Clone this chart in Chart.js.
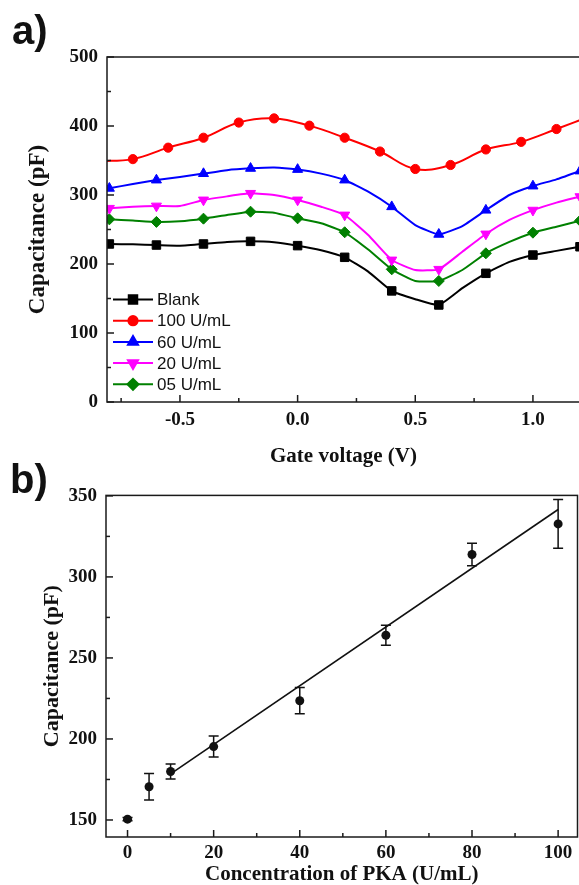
<!DOCTYPE html>
<html>
<head>
<meta charset="utf-8">
<script src="https://cdn.jsdelivr.net/npm/chart.js@4.4.0/dist/chart.umd.min.js"></script>
<style>
  html, body { margin: 0; padding: 0; background: #fff; }
  body { width: 579px; height: 885px; overflow: hidden; position: relative; }
  .panel { position: absolute; left: 0; }
  .tag { position: absolute; z-index: 2; color: #111; line-height: 1;
         font: bold 40px 'Liberation Sans', Arial, sans-serif; }
</style>
</head>
<body>
<div class="tag" style="left:12px; top:8px">a)</div>
<div class="tag" style="left:10px; top:457px">b)</div>
<div class="panel" style="top:0"><canvas id="gateChart" width="600" height="475"></canvas></div>
<div class="panel" style="top:475px"><canvas id="pkaChart" width="600" height="410"></canvas></div>
<script>
// panel a) capacitance vs gate voltage
const gateVoltage = [-0.8, -0.7, -0.6, -0.5, -0.4, -0.3, -0.2, -0.1, 0.0, 0.1, 0.2,
  0.3, 0.4, 0.5, 0.6, 0.7, 0.8, 0.9, 1.0, 1.1, 1.2];
const blankCap = [229, 228.5, 227.5, 226.6, 229, 232, 232.8, 231.4, 226.6, 220, 209.7,
  189, 161, 149, 140.6, 165, 186.5, 203, 213, 219, 225];
const pka60Cap = [309.7, 316, 321.7, 326, 331, 336, 338.6, 340, 337, 331, 321.7,
  304.8, 283, 256.5, 243, 255, 278, 300, 313, 322.7, 334.8];
const pka20Cap = [280.7, 283, 284, 284, 292.8, 298, 302.4, 300, 292.8, 283, 271,
  242, 205.8, 191.3, 192.3, 217.8, 243.5, 263.8, 278, 289, 297.6];
const pka05Cap = [264.7, 263, 261, 262, 265.7, 271, 275.8, 274.4, 266.2, 259, 246,
  221, 192.3, 175.4, 175.4, 191.3, 215.5, 232, 245.4, 254, 262.8];
// the 100 U/mL curve is sampled on its own grid
const pka100Voltage = [-0.85, -0.7, -0.55, -0.4, -0.25, -0.1, 0.05, 0.2, 0.35, 0.5,
  0.65, 0.8, 0.95, 1.1, 1.25];
const pka100Cap = [349, 352, 368.6, 383, 405, 411, 400.5, 383, 363, 337.7,
  343.5, 366, 377, 395.6, 415];
const gateLabels = ['Blank', '100 U/mL', '60 U/mL', '20 U/mL', '05 U/mL'];
const gateXTicks = [-0.5, 0.0, 0.5, 1.0];
const gateYTicks = [0, 100, 200, 300, 400, 500];

// panel b) calibration
const pkaConc = [0, 5, 10, 20, 40, 60, 80, 100];
const pkaCap = [150.5, 170.5, 179.9, 195.3, 223.6, 264, 313.8, 332.7];
const pkaErr = [1, 8.2, 4.6, 6.5, 8.1, 6.1, 6.9, 15];
const fitConc = [10, 100];
const fitCap = [178.5, 341.6];
const pkaXTicks = [0, 20, 40, 60, 80, 100];
const pkaYTicks = [150, 200, 250, 300, 350];

const serif = "'Liberation Serif', 'Times New Roman', serif";
const sans = "'Liberation Sans', Arial, sans-serif";
const ink = '#111';

const toPoints = (xs, ys) => xs.map((x, i) => ({ x, y: ys[i] }));

const minorOf = (majors, min, max) => {
  const step = majors[1] - majors[0];
  const out = [];
  majors.forEach(v => {
    [v - step / 2, v + step / 2].forEach(m => {
      if (m > min && m < max && !out.some(o => Math.abs(o - m) < 1e-9)) out.push(m);
    });
  });
  return out;
};

// box round the plot area with inward ticks
const framePlugin = {
  id: 'frame',
  afterDatasetsDraw(chart, args, opts) {
    const { ctx, chartArea: a, scales } = chart;
    ctx.save();
    ctx.strokeStyle = '#1a1a1a';
    ctx.lineWidth = 1.5;
    ctx.strokeRect(a.left, a.top, a.right - a.left, a.bottom - a.top);
    const xs = scales.x, ys = scales.y;
    const drawX = (vals, len) => vals.forEach(v => {
      const px = xs.getPixelForValue(v);
      ctx.beginPath(); ctx.moveTo(px, a.bottom); ctx.lineTo(px, a.bottom - len); ctx.stroke();
    });
    const drawY = (vals, len) => vals.forEach(v => {
      const py = ys.getPixelForValue(v);
      ctx.beginPath(); ctx.moveTo(a.left, py); ctx.lineTo(a.left + len, py); ctx.stroke();
    });
    drawX(opts.xTicks, 7);
    drawX(minorOf(opts.xTicks, xs.min, xs.max), 4);
    drawY(opts.yTicks, 7);
    drawY(minorOf(opts.yTicks, ys.min, ys.max), 4);
    ctx.restore();
  }
};

const gateStyles = [
  { color: '#000000', pointStyle: 'rect', radius: 6, rotation: 0 },
  { color: '#ff0000', pointStyle: 'circle', radius: 4.6, rotation: 0 },
  { color: '#0000ff', pointStyle: 'triangle', radius: 5.8, rotation: 0 },
  { color: '#ff00ff', pointStyle: 'triangle', radius: 5.8, rotation: 180 },
  { color: '#008000', pointStyle: 'rectRot', radius: 5.5, rotation: 0 }
];

const legendPlugin = {
  id: 'boxLegend',
  afterDraw(chart) {
    const { ctx } = chart;
    ctx.save();
    gateLabels.forEach((label, i) => {
      const s = gateStyles[i];
      const y = 299.5 + i * 21.2;
      ctx.strokeStyle = s.color;
      ctx.fillStyle = s.color;
      ctx.lineWidth = 2;
      ctx.beginPath(); ctx.moveTo(113, y); ctx.lineTo(153, y); ctx.stroke();
      Chart.helpers.drawPoint(ctx, {
        pointStyle: s.pointStyle, radius: s.radius, rotation: s.rotation, borderWidth: 1
      }, 133, y);
      ctx.fillStyle = ink;
      ctx.font = '17px ' + sans;
      ctx.textBaseline = 'middle';
      ctx.textAlign = 'left';
      ctx.fillText(label, 157, y + 1);
    });
    ctx.restore();
  }
};

const gateSeries = [
  toPoints(gateVoltage, blankCap),
  toPoints(pka100Voltage, pka100Cap),
  toPoints(gateVoltage, pka60Cap),
  toPoints(gateVoltage, pka20Cap),
  toPoints(gateVoltage, pka05Cap)
];

const gateDatasets = gateSeries.map((data, i) => {
  const s = gateStyles[i];
  const dense = i !== 1;
  return {
    label: gateLabels[i],
    data,
    borderColor: s.color,
    backgroundColor: s.color,
    borderWidth: 2,
    tension: dense ? 0.15 : 0.4,
    pointStyle: s.pointStyle,
    pointRotation: s.rotation,
    pointRadius: ctx => (dense && ctx.dataIndex % 2 !== 0) ? 0 : s.radius,
    pointBorderWidth: 1,
    clip: 0
  };
});

const tickFont = { family: serif, size: 19, weight: 'bold' };

new Chart(document.getElementById('gateChart'), {
  type: 'line',
  data: { datasets: gateDatasets },
  options: {
    responsive: false,
    animation: false,
    events: [],
    layout: { padding: { top: 57, right: 20, left: 0, bottom: 0 } },
    plugins: {
      legend: { display: false },
      tooltip: { enabled: false },
      frame: { xTicks: gateXTicks, yTicks: gateYTicks }
    },
    scales: {
      x: {
        type: 'linear', min: -0.81, max: 1.2,
        grid: { display: false, drawTicks: false },
        border: { display: false },
        afterBuildTicks: s => { s.ticks = gateXTicks.map(v => ({ value: v })); },
        afterFit: s => { s.height = 73; },
        ticks: { font: tickFont, color: ink, padding: 7, callback: v => v.toFixed(1) },
        title: { display: true, text: 'Gate voltage (V)', color: ink,
          font: { family: serif, size: 21, weight: 'bold' }, padding: { bottom: 6 } }
      },
      y: {
        type: 'linear', min: 0, max: 500,
        grid: { display: false, drawTicks: false },
        border: { display: false },
        afterBuildTicks: s => { s.ticks = gateYTicks.map(v => ({ value: v })); },
        afterFit: s => { s.width = 107; },
        ticks: { font: tickFont, color: ink, padding: 9 },
        title: { display: true, text: 'Capacitance (pF)', color: ink,
          font: { family: serif, size: 23, weight: 'bold' }, padding: { top: 24 } }
      }
    }
  },
  plugins: [framePlugin, legendPlugin]
});

const errorBarPlugin = {
  id: 'errorBars',
  afterDatasetsDraw(chart) {
    const { ctx, scales: { x, y } } = chart;
    ctx.save();
    ctx.strokeStyle = '#111';
    ctx.lineWidth = 1.5;
    pkaConc.forEach((c, i) => {
      const px = x.getPixelForValue(c);
      const top = y.getPixelForValue(pkaCap[i] + pkaErr[i]);
      const bot = y.getPixelForValue(pkaCap[i] - pkaErr[i]);
      ctx.beginPath();
      ctx.moveTo(px, top); ctx.lineTo(px, bot);
      ctx.moveTo(px - 5, top); ctx.lineTo(px + 5, top);
      ctx.moveTo(px - 5, bot); ctx.lineTo(px + 5, bot);
      ctx.stroke();
    });
    ctx.restore();
  }
};

new Chart(document.getElementById('pkaChart'), {
  type: 'scatter',
  data: {
    datasets: [
      {
        label: 'Capacitance',
        data: toPoints(pkaConc, pkaCap),
        borderColor: '#111', backgroundColor: '#111',
        pointRadius: 4.5, pointBorderWidth: 0
      },
      {
        label: 'Linear fit',
        data: toPoints(fitConc, fitCap),
        showLine: true, borderColor: '#111', borderWidth: 1.6,
        pointRadius: 0
      }
    ]
  },
  options: {
    responsive: false,
    animation: false,
    events: [],
    layout: { padding: { top: 16, right: 22.5, left: 0, bottom: 0 } },
    plugins: {
      legend: { display: false },
      tooltip: { enabled: false },
      frame: { xTicks: pkaXTicks, yTicks: pkaYTicks }
    },
    scales: {
      x: {
        type: 'linear', min: -5, max: 104.5,
        grid: { display: false, drawTicks: false },
        border: { display: false },
        afterBuildTicks: s => { s.ticks = pkaXTicks.map(v => ({ value: v })); },
        afterFit: s => { s.height = 48; },
        ticks: { font: tickFont, color: ink, padding: 5 },
        title: { display: true, text: 'Concentration of PKA (U/mL)', color: ink,
          font: { family: serif, size: 21, weight: 'bold' }, padding: { bottom: -2 } }
      },
      y: {
        type: 'linear', min: 139.5, max: 350.3,
        grid: { display: false, drawTicks: false },
        border: { display: false },
        afterBuildTicks: s => { s.ticks = pkaYTicks.map(v => ({ value: v })); },
        afterFit: s => { s.width = 106; },
        ticks: { font: tickFont, color: ink, padding: 9 },
        title: { display: true, text: 'Capacitance (pF)', color: ink,
          font: { family: serif, size: 22, weight: 'bold' }, padding: { top: 39 } }
      }
    }
  },
  plugins: [framePlugin, errorBarPlugin]
});
</script>
</body>
</html>
